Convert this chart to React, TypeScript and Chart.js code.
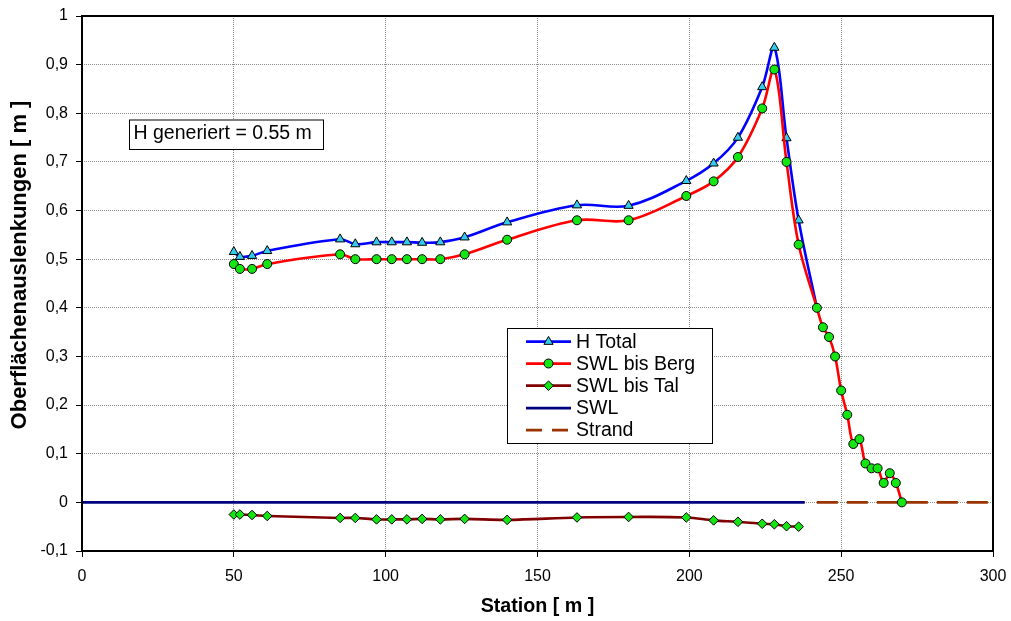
import { useEffect, useRef } from 'react';
import { Chart, registerables } from 'chart.js';

Chart.register(...registerables);

// ---------- data ----------
const hTotalStations = [50, 52, 56, 61, 85, 90, 97, 102, 107, 112, 118, 126, 140, 163, 180, 199, 208, 216, 224, 228, 232, 236, 242];
const hTotalValues = [0.515, 0.505, 0.507, 0.517, 0.541, 0.531, 0.535, 0.535, 0.535, 0.534, 0.535, 0.545, 0.576, 0.611, 0.610, 0.661, 0.697, 0.750, 0.854, 0.935, 0.749, 0.580, 0.400];

const bergStations = [50, 52, 56, 61, 85, 90, 97, 102, 107, 112, 118, 126, 140, 163, 180, 199, 208, 216, 224, 228, 232, 236, 242, 244, 246, 248, 250, 252, 254, 256, 258, 260, 262, 264, 266, 268, 270];
const bergValues = [0.49, 0.48, 0.48, 0.49, 0.51, 0.50, 0.50, 0.50, 0.50, 0.50, 0.50, 0.51, 0.54, 0.58, 0.58, 0.63, 0.66, 0.71, 0.81, 0.89, 0.70, 0.53, 0.40, 0.36, 0.34, 0.30, 0.23, 0.18, 0.12, 0.13, 0.08, 0.07, 0.07, 0.04, 0.06, 0.04, 0.00];

const talStations = [50, 52, 56, 61, 85, 90, 97, 102, 107, 112, 118, 126, 140, 163, 180, 199, 208, 216, 224, 228, 232, 236];
const talValues = [-0.025, -0.025, -0.026, -0.028, -0.032, -0.032, -0.035, -0.035, -0.035, -0.034, -0.035, -0.034, -0.036, -0.031, -0.030, -0.031, -0.037, -0.040, -0.044, -0.045, -0.049, -0.050];

const swlStations = [0, 238];
const swlValues = [0, 0];

const strandStations = [242, 300];
const strandValues = [0, 0];

const seriesNames = ['H Total', 'SWL bis Berg', 'SWL bis Tal', 'SWL', 'Strand'];
const xTickLabels = ['0', '50', '100', '150', '200', '250', '300'];
const yTickLabels = ['-0,1', '0', '0,1', '0,2', '0,3', '0,4', '0,5', '0,6', '0,7', '0,8', '0,9', '1'];
const xTitle = 'Station [ m ]';
const yTitle = 'Oberflächenauslenkungen [ m ]';
const annotationText = 'H generiert = 0.55 m';

// ---------- styles ----------
const FONT = '"Liberation Sans", Arial, sans-serif';
const C_BLUE = '#0000FF';
const C_RED = '#FF0000';
const C_DARKRED = '#800000';
const C_NAVY = '#000080';
const C_BROWN = '#993300';
const C_CYAN = '#33CCEE';
const C_GREEN = '#14E614';
const STRAND_DASH = [21, 9];

const toPts = (xs: number[], ys: number[]) => xs.map((x, i) => ({ x, y: ys[i] }));

function drawMarker(ctx: CanvasRenderingContext2D, kind: string, x: number, y: number, fill: string) {
  ctx.save();
  ctx.beginPath();
  if (kind === 'triangle') {
    const r = 5.3;
    ctx.moveTo(x, y - r);
    ctx.lineTo(x + r * Math.sin((2 * Math.PI) / 3), y - r * Math.cos((2 * Math.PI) / 3));
    ctx.lineTo(x + r * Math.sin((4 * Math.PI) / 3), y - r * Math.cos((4 * Math.PI) / 3));
    ctx.closePath();
  } else if (kind === 'circle') {
    ctx.arc(x, y, 4.5, 0, Math.PI * 2);
  } else if (kind === 'diamond') {
    const r = 4.8;
    ctx.moveTo(x - r, y);
    ctx.lineTo(x, y - r);
    ctx.lineTo(x + r, y);
    ctx.lineTo(x, y + r);
    ctx.closePath();
  }
  ctx.fillStyle = fill;
  ctx.fill();
  ctx.lineWidth = 1;
  ctx.strokeStyle = '#000';
  ctx.stroke();
  ctx.restore();
}

const overlayPlugin = {
  id: 'overlay',
  afterDatasetsDraw(chart: any) {
    const { ctx, chartArea: a } = chart;
    ctx.save();
    // plot border
    ctx.strokeStyle = '#000';
    ctx.lineWidth = 2;
    ctx.strokeRect(a.left, a.top, a.right - a.left, a.bottom - a.top);

    // y-axis title
    ctx.save();
    ctx.translate(20, 265);
    ctx.rotate(-Math.PI / 2);
    ctx.fillStyle = '#000';
    ctx.font = `bold 22px ${FONT}`;
    ctx.textAlign = 'center';
    ctx.textBaseline = 'middle';
    ctx.fillText(yTitle, 0, 0);
    ctx.restore();

    // annotation box
    ctx.fillStyle = '#fff';
    ctx.fillRect(129.5, 120, 194, 29.5);
    ctx.lineWidth = 1;
    ctx.strokeRect(129.5, 120, 194, 29.5);
    ctx.fillStyle = '#000';
    ctx.font = `19.5px ${FONT}`;
    ctx.textBaseline = 'alphabetic';
    ctx.textAlign = 'left';
    ctx.fillText(annotationText, 133.5, 138.5);

    // legend box
    const lx = 507.5, ly = 328.5, lw = 205, lh = 115;
    ctx.fillStyle = '#fff';
    ctx.fillRect(lx, ly, lw, lh);
    ctx.strokeStyle = '#000';
    ctx.lineWidth = 1;
    ctx.strokeRect(lx, ly, lw, lh);

    const rows = [341.7, 363.5, 385.7, 408.2, 430];
    const lineColors = [C_BLUE, C_RED, C_DARKRED, C_NAVY, C_BROWN];
    const markers = ['triangle', 'circle', 'diamond', '', ''];
    const fills = [C_CYAN, C_GREEN, C_GREEN, '', ''];
    const x1 = 526, x2 = 571, xm = 548.5;
    seriesNames.forEach((name, i) => {
      const y = rows[i];
      ctx.save();
      ctx.beginPath();
      ctx.strokeStyle = lineColors[i];
      ctx.lineWidth = 2.75;
      if (i === 4) ctx.setLineDash([16, 10]);
      ctx.moveTo(x1, y);
      ctx.lineTo(x2, y);
      ctx.stroke();
      ctx.restore();
      if (markers[i]) drawMarker(ctx, markers[i], xm, y, fills[i]);
      ctx.fillStyle = '#000';
      ctx.font = `19.5px ${FONT}`;
      ctx.textBaseline = 'alphabetic';
      ctx.textAlign = 'left';
      ctx.fillText(name, 576, y + 6);
    });
    ctx.restore();
  },
};

export default function App() {
  const ref = useRef<HTMLCanvasElement>(null);

  useEffect(() => {
    document.body.style.margin = '0';
    const canvas = ref.current;
    if (!canvas) return;
    const lastH = hTotalStations.length - 1;
    const chart = new Chart(canvas, {
      type: 'line',
      data: {
        datasets: [
          {
            label: seriesNames[1],
            data: toPts(bergStations, bergValues),
            borderColor: C_RED,
            borderWidth: 2.6,
            tension: 0.35,
            pointStyle: 'circle',
            pointRadius: 4.5,
            pointBackgroundColor: C_GREEN,
            pointBorderColor: '#000',
            pointBorderWidth: 1,
            order: 0,
          },
          {
            label: seriesNames[0],
            data: toPts(hTotalStations, hTotalValues),
            borderColor: C_BLUE,
            borderWidth: 2.6,
            tension: 0.35,
            pointStyle: 'triangle',
            pointRadius: (c: any) => (c.dataIndex === lastH ? 0 : 5.3),
            pointBackgroundColor: C_CYAN,
            pointBorderColor: '#000',
            pointBorderWidth: 1,
            order: 1,
          },
          {
            label: seriesNames[2],
            data: toPts(talStations, talValues),
            borderColor: C_DARKRED,
            borderWidth: 2.6,
            tension: 0.35,
            pointStyle: 'rectRot',
            pointRadius: 4.8,
            pointBackgroundColor: C_GREEN,
            pointBorderColor: '#000',
            pointBorderWidth: 1,
            order: 2,
          },
          {
            label: seriesNames[3],
            data: toPts(swlStations, swlValues),
            borderColor: C_NAVY,
            borderWidth: 2.75,
            tension: 0,
            pointRadius: 0,
            order: 3,
          },
          {
            label: seriesNames[4],
            data: toPts(strandStations, strandValues),
            borderColor: C_BROWN,
            borderWidth: 2.75,
            borderDash: STRAND_DASH,
            borderCapStyle: 'butt',
            tension: 0,
            pointRadius: 0,
            order: 4,
          },
        ] as any,
      },
      options: {
        responsive: false,
        animation: false,
        devicePixelRatio: 1,
        events: [],
        layout: { padding: { top: 16, right: 18, left: 0, bottom: 0 } },
        plugins: {
          legend: { display: false },
          tooltip: { enabled: false },
        },
        scales: {
          x: {
            type: 'linear',
            min: 0,
            max: 300,
            afterFit: (s: any) => { s.height = 70; s.paddingLeft = 0; s.paddingRight = 0; },
            ticks: {
              stepSize: 50,
              color: '#000',
              padding: 10,
              maxRotation: 0,
              font: { family: FONT, size: 16 },
              callback: (_v: any, i: number) => xTickLabels[i],
            },
            grid: {
              color: '#8c8c8c',
              lineWidth: 1,
              tickLength: 6,
              tickColor: '#000',
              tickWidth: 1,
              tickBorderDash: [],
            },
            border: { display: false, dash: [1, 1] },
            title: {
              display: true,
              text: xTitle,
              color: '#000',
              font: { family: FONT, size: 19.7, weight: 'bold' },
              padding: { top: 0, bottom: 3 },
            },
          },
          y: {
            type: 'linear',
            min: -0.1,
            max: 1,
            afterFit: (s: any) => { s.width = 82; s.paddingTop = 0; s.paddingBottom = 0; },
            ticks: {
              stepSize: 0.1,
              color: '#000',
              padding: 8,
              font: { family: FONT, size: 16 },
              callback: (_v: any, i: number) => yTickLabels[i],
            },
            grid: {
              color: '#8c8c8c',
              lineWidth: 1,
              tickLength: 6,
              tickColor: '#000',
              tickWidth: 1,
              tickBorderDash: [],
            },
            border: { display: false, dash: [1, 1] },
            title: { display: false },
          },
        },
      } as any,
      plugins: [overlayPlugin],
    });
    return () => chart.destroy();
  }, []);

  return (
    <div style={{ position: 'absolute', left: 0, top: 0, width: 1011, height: 621, background: '#fff' }}>
      <canvas ref={ref} width={1011} height={621} style={{ display: 'block' }} />
    </div>
  );
}
